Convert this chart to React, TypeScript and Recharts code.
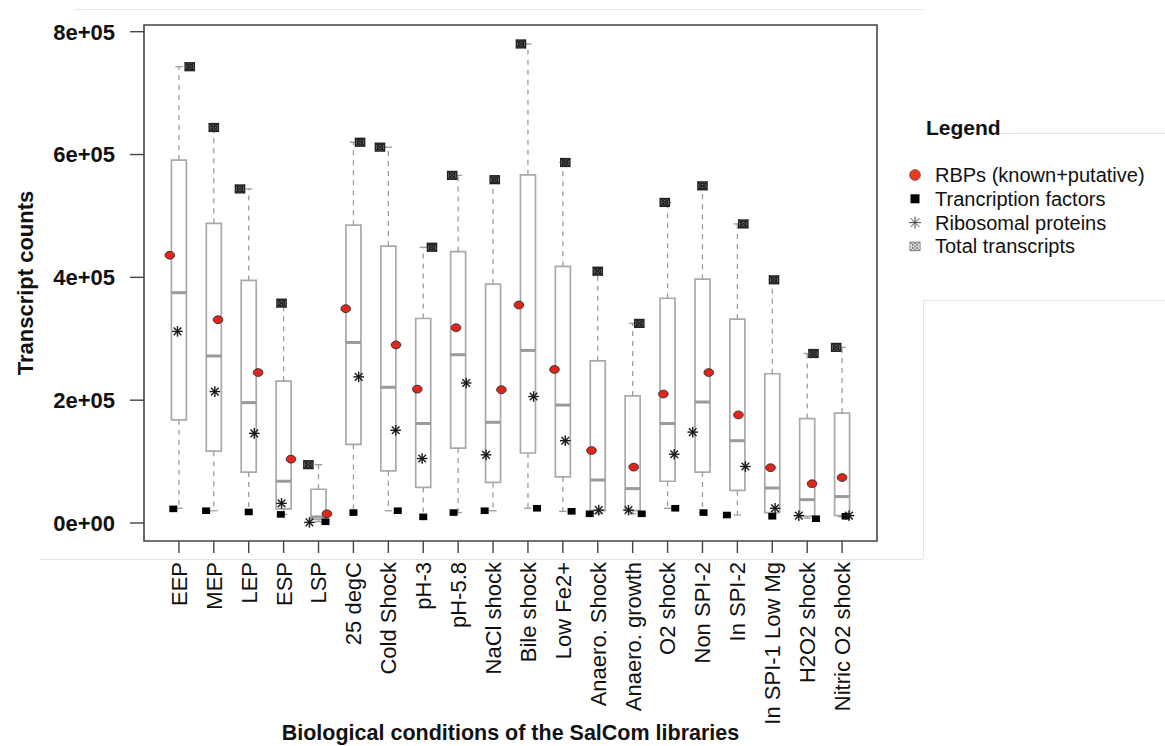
import React from "react";
import {
  ComposedChart,
  XAxis,
  YAxis,
  Scatter,
  ReferenceArea,
  ReferenceLine,
} from "recharts";

const FONT = '"Liberation Sans", Arial, Helvetica, sans-serif';

const conditions = [
  "EEP",
  "MEP",
  "LEP",
  "ESP",
  "LSP",
  "25 degC",
  "Cold Shock",
  "pH-3",
  "pH-5.8",
  "NaCl shock",
  "Bile shock",
  "Low Fe2+",
  "Anaero. Shock",
  "Anaero. growth",
  "O2 shock",
  "Non SPI-2",
  "In SPI-2",
  "In SPI-1 Low Mg",
  "H2O2 shock",
  "Nitric O2 shock",
];

// box statistics per library
const whiskerLow = [24000, 20000, 18000, 14000, 2000, 17000, 20000, 10000, 17000, 20000, 24000, 19000, 15000, 15000, 24000, 17000, 13000, 11000, 8000, 10000];
const quartile1 = [168000, 117000, 83000, 23000, 6000, 128000, 85000, 58000, 122000, 66000, 114000, 75000, 20000, 20000, 68000, 83000, 53000, 17000, 11000, 12000];
const medians = [375000, 272000, 196000, 68000, 10000, 294000, 221000, 162000, 274000, 164000, 281000, 192000, 70000, 56000, 162000, 197000, 134000, 57000, 38000, 43000];
const quartile3 = [591000, 488000, 395000, 231000, 55000, 485000, 451000, 333000, 442000, 389000, 567000, 418000, 264000, 207000, 366000, 397000, 332000, 243000, 170000, 179000];
const whiskerHigh = [743000, 644000, 544000, 358000, 95000, 620000, 612000, 449000, 566000, 559000, 780000, 587000, 410000, 325000, 522000, 549000, 487000, 396000, 276000, 286000];

// overlaid counts
const rbpCounts = [436000, 331000, 245000, 104000, 15000, 349000, 290000, 218000, 318000, 217000, 355000, 250000, 118000, 91000, 210000, 245000, 176000, 90000, 64000, 74000];
const tfCounts = [23000, 20000, 18000, 14000, 2000, 17000, 20000, 10000, 17000, 20000, 24000, 19000, 15000, 15000, 24000, 17000, 13000, 11000, 7000, 11000];
const riboCounts = [312000, 214000, 146000, 32000, 1000, 238000, 151000, 105000, 228000, 111000, 206000, 134000, 21000, 21000, 112000, 148000, 92000, 24000, 12000, 12000];
const totalCounts = [743000, 644000, 544000, 358000, 95000, 620000, 612000, 449000, 566000, 559000, 780000, 587000, 410000, 325000, 522000, 549000, 487000, 396000, 276000, 286000];

// horizontal jitter of the points, in category units
const rbpJitter = [-0.26, 0.12, 0.27, 0.21, 0.24, -0.22, 0.22, -0.17, -0.06, 0.24, -0.26, -0.24, -0.18, 0.03, -0.12, 0.18, 0.03, -0.05, 0.14, 0.0];
const tfJitter = [-0.16, -0.22, 0, -0.08, 0.2, 0, 0.27, 0, -0.13, -0.24, 0.26, 0.25, -0.23, 0.26, 0.22, 0.03, -0.3, 0, 0.25, 0.1];
const riboJitter = [-0.04, 0.03, 0.16, -0.06, -0.26, 0.15, 0.21, -0.03, 0.23, -0.2, 0.16, 0.07, 0.03, -0.12, 0.19, -0.28, 0.23, 0.08, -0.24, 0.2];
const totalJitter = [0.31, 0, -0.25, -0.06, -0.29, 0.19, -0.24, 0.25, -0.17, 0.05, -0.2, 0.07, 0, 0.19, -0.08, 0, 0.17, 0.05, 0.18, -0.17];

const yTicks = [0, 200000, 400000, 600000, 800000];
const xTicks = conditions.map((_, i) => i + 1);

const Y_MIN = -29300;
const Y_MAX = 810900;
const X_MAX = conditions.length + 1;
const BOX_HALF = 0.215;
const STAPLE_HALF = 0.105;

const toPoints = (vals: number[], jitter: number[]) =>
  vals.map((y, i) => ({ x: i + 1 + jitter[i], y }));

const sci = (v: number) => (v === 0 ? "0e+00" : `${v / 100000}e+05`);

const YTick = ({ x, y, payload }: any) => (
  <text x={x} y={y} dy="0.36em" textAnchor="end" fontSize={22} fontWeight="bold" fill="#111" fontFamily={FONT}>
    {sci(payload.value)}
  </text>
);

const XTick = ({ x, y, payload }: any) => (
  <text
    transform={`translate(${x},${y}) rotate(-90)`}
    dy="0.36em"
    textAnchor="end"
    fontSize={22}
    fill="#111"
    fontFamily={FONT}
  >
    {conditions[payload.value - 1]}
  </text>
);

const RbpDot = ({ cx, cy }: any) => (
  <ellipse cx={cx} cy={cy} rx={4.8} ry={3.9} fill="#e3261b" stroke="#2a2a2a" strokeWidth={0.9} />
);

const TfDot = ({ cx, cy }: any) => (
  <rect x={cx - 4} y={cy - 3.3} width={8} height={6.6} fill="#000" />
);

const Star = ({ cx, cy, r = 5, color = "#1a1a1a", w = 1.4 }: any) => (
  <g stroke={color} strokeWidth={w}>
    <line x1={cx - r} y1={cy} x2={cx + r} y2={cy} />
    <line x1={cx} y1={cy - r} x2={cx} y2={cy + r} />
    <line x1={cx - r * 0.72} y1={cy - r * 0.72} x2={cx + r * 0.72} y2={cy + r * 0.72} />
    <line x1={cx - r * 0.72} y1={cy + r * 0.72} x2={cx + r * 0.72} y2={cy - r * 0.72} />
  </g>
);

const RiboDot = ({ cx, cy }: any) => <Star cx={cx} cy={cy} r={5.3} />;

const TotalIcon = ({ cx, cy, s = 4.6, color = "#2a2a2a", fill = "#fff", w = 1.3 }: any) => (
  <g stroke={color} strokeWidth={w} fill="none">
    <rect x={cx - s} y={cy - s * 0.85} width={s * 2} height={s * 1.7} fill={fill} />
    <line x1={cx - s} y1={cy - s * 0.85} x2={cx + s} y2={cy + s * 0.85} />
    <line x1={cx - s} y1={cy + s * 0.85} x2={cx + s} y2={cy - s * 0.85} />
    <circle cx={cx} cy={cy} r={s * 0.6} />
  </g>
);

const TotalDot = ({ cx, cy }: any) => <TotalIcon cx={cx} cy={cy} fill="#8a8a8a" color="#222" w={1.4} />;

const legendItems = [
  { label: "RBPs (known+putative)", kind: "rbp" },
  { label: "Trancription factors", kind: "tf" },
  { label: "Ribosomal proteins", kind: "ribo" },
  { label: "Total transcripts", kind: "total" },
];

const LegendIcon = ({ kind, cx, cy }: { kind: string; cx: number; cy: number }) => {
  if (kind === "rbp") return <circle cx={cx} cy={cy} r={5.4} fill="#ee3a1c" stroke="#555" strokeWidth={0.8} />;
  if (kind === "tf") return <rect x={cx - 4.5} y={cy - 4.5} width={9} height={9} fill="#000" />;
  if (kind === "ribo") return <Star cx={cx} cy={cy} r={6} color="#444" w={1} />;
  return <TotalIcon cx={cx} cy={cy} s={5} color="#777" fill="#fff" w={1} />;
};

const boxStroke = "#a9a9a9";
const whiskerStroke = "#9c9c9c";

export default function App() {
  return (
    <div style={{ position: "absolute", left: 0, top: 0, width: 1165, height: 746, background: "#fff" }}>
      <ComposedChart
        width={1165}
        height={746}
        margin={{ top: 25, right: 288, bottom: 0, left: 0 }}
      >
        <XAxis
          type="number"
          dataKey="x"
          domain={[0, X_MAX]}
          ticks={xTicks}
          allowDataOverflow
          axisLine={false}
          tickSize={12}
          tickMargin={9}
          tickLine={{ stroke: "#444", strokeWidth: 1.4 }}
          tick={<XTick />}
          height={205}
          interval={0}
          label={({ viewBox }: any) => (
            <text
              x={viewBox.x + viewBox.width / 2}
              y={viewBox.y + 199}
              textAnchor="middle"
              fontSize={21.5}
              fontWeight="bold"
              fill="#111"
              fontFamily={FONT}
            >
              Biological conditions of the SalCom libraries
            </text>
          )}
        />
        <YAxis
          type="number"
          dataKey="y"
          domain={[Y_MIN, Y_MAX]}
          ticks={yTicks}
          allowDataOverflow
          axisLine={false}
          tickSize={14}
          tickMargin={15}
          tickLine={{ stroke: "#444", strokeWidth: 1.4 }}
          tick={<YTick />}
          width={144}
          interval={0}
          label={({ viewBox }: any) => {
            const cy = viewBox.y + viewBox.height / 2;
            return (
              <text
                transform={`translate(${viewBox.x + 32.5},${cy}) rotate(-90)`}
                textAnchor="middle"
                fontSize={22}
                fontWeight="bold"
                fill="#111"
                fontFamily={FONT}
              >
                Transcript counts
              </text>
            );
          }}
        />

        {conditions.map((c, i) => (
          <ReferenceArea
            key={`box-${c}`}
            x1={i + 1 - BOX_HALF}
            x2={i + 1 + BOX_HALF}
            y1={quartile1[i]}
            y2={quartile3[i]}
            fill="none"
            stroke={boxStroke}
            strokeWidth={1.7}
            ifOverflow="visible"
          />
        ))}
        {conditions.map((c, i) => (
          <ReferenceLine
            key={`med-${c}`}
            segment={[
              { x: i + 1 - BOX_HALF, y: medians[i] },
              { x: i + 1 + BOX_HALF, y: medians[i] },
            ]}
            stroke="#9a9a9a"
            strokeWidth={3}
            ifOverflow="visible"
          />
        ))}
        {conditions.map((c, i) => (
          <ReferenceLine
            key={`wu-${c}`}
            segment={[
              { x: i + 1, y: quartile3[i] },
              { x: i + 1, y: whiskerHigh[i] },
            ]}
            stroke={whiskerStroke}
            strokeWidth={1.3}
            strokeDasharray="5 5"
            ifOverflow="visible"
          />
        ))}
        {conditions.map((c, i) => (
          <ReferenceLine
            key={`wl-${c}`}
            segment={[
              { x: i + 1, y: quartile1[i] },
              { x: i + 1, y: whiskerLow[i] },
            ]}
            stroke={whiskerStroke}
            strokeWidth={1.3}
            strokeDasharray="5 5"
            ifOverflow="visible"
          />
        ))}
        {conditions.map((c, i) => (
          <ReferenceLine
            key={`su-${c}`}
            segment={[
              { x: i + 1 - STAPLE_HALF, y: whiskerHigh[i] },
              { x: i + 1 + STAPLE_HALF, y: whiskerHigh[i] },
            ]}
            stroke={whiskerStroke}
            strokeWidth={1.3}
            ifOverflow="visible"
          />
        ))}
        {conditions.map((c, i) => (
          <ReferenceLine
            key={`sl-${c}`}
            segment={[
              { x: i + 1 - STAPLE_HALF, y: whiskerLow[i] },
              { x: i + 1 + STAPLE_HALF, y: whiskerLow[i] },
            ]}
            stroke={whiskerStroke}
            strokeWidth={1.3}
            ifOverflow="visible"
          />
        ))}

        {/* plot frame */}
        <ReferenceArea
          x1={0}
          x2={X_MAX}
          y1={Y_MIN}
          y2={Y_MAX}
          fill="none"
          stroke="#444"
          strokeWidth={1.6}
          ifOverflow="visible"
        />

        <Scatter data={toPoints(totalCounts, totalJitter)} shape={<TotalDot />} isAnimationActive={false} />
        <Scatter data={toPoints(tfCounts, tfJitter)} shape={<TfDot />} isAnimationActive={false} />
        <Scatter data={toPoints(riboCounts, riboJitter)} shape={<RiboDot />} isAnimationActive={false} />
        <Scatter data={toPoints(rbpCounts, rbpJitter)} shape={<RbpDot />} isAnimationActive={false} />
      </ComposedChart>

      <svg
        width={1165}
        height={746}
        style={{ position: "absolute", left: 0, top: 0, pointerEvents: "none" }}
      >
        {/* panel edges */}
        <g stroke="#e4e4e4" strokeWidth={1}>
          <line x1={75} y1={9.5} x2={923} y2={9.5} />
          <line x1={40} y1={559.5} x2={923} y2={559.5} />
          <line x1={923.5} y1={300} x2={923.5} y2={559} />
          <line x1={923} y1={300.5} x2={1165} y2={300.5} />
          <line x1={925} y1={133.5} x2={1165} y2={133.5} />
        </g>
        <text x={926} y={135} fontSize={21} fontWeight="bold" fill="#111" fontFamily={FONT}>
          Legend
        </text>
        {legendItems.map((item, i) => {
          const baseline = 182 + i * 23.8;
          return (
            <g key={item.kind}>
              <LegendIcon kind={item.kind} cx={915} cy={baseline - 7} />
              <text x={935} y={baseline} fontSize={20} fill="#111" fontFamily={FONT}>
                {item.label}
              </text>
            </g>
          );
        })}
      </svg>
    </div>
  );
}
